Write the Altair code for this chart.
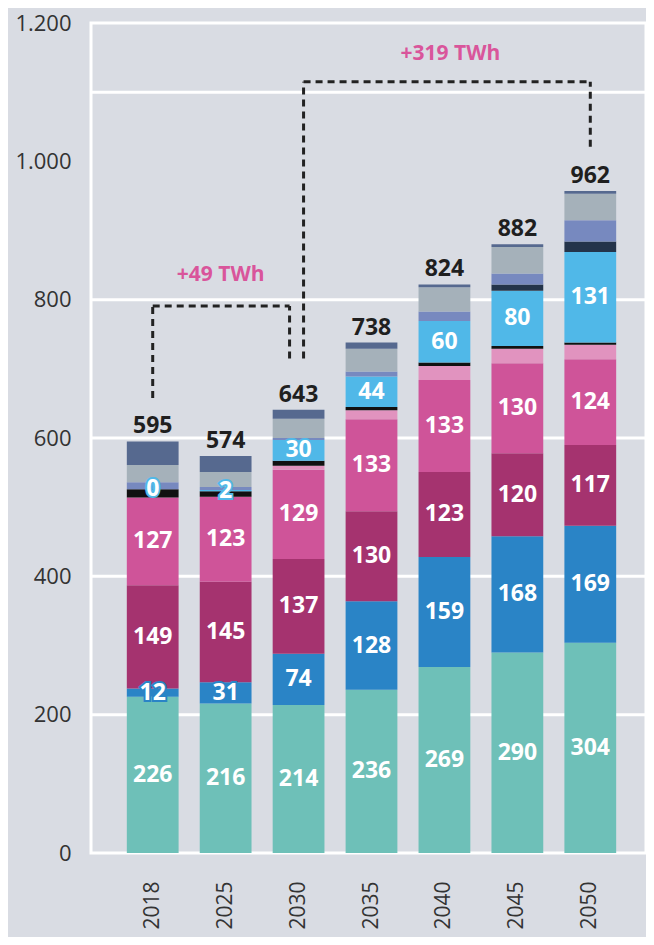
import altair as alt
import pandas as pd

# ---- data ----
years = ["2018", "2025", "2030", "2035", "2040", "2045", "2050"]
teal = [226, 216, 214, 236, 269, 290, 304]
blue = [12, 31, 74, 128, 159, 168, 169]
darkmag = [149, 145, 137, 130, 123, 120, 117]
pink = [127, 123, 129, 133, 133, 130, 124]
lightpink = [0, 0, 6, 13, 20, 21, 21]
black = [12, 8, 7, 5, 5, 4, 3]
lightblue = [0, 2, 30, 44, 60, 80, 131]
navy = [0, 0, 0, 0, 0, 9, 15]
lavender = [10, 4, 3, 7, 14, 16, 31]
grey = [25, 22, 28, 33, 35, 38, 38]
slate = [34, 23, 13, 9, 4, 4, 4]
totals = [595, 574, 643, 738, 824, 882, 962]

series = [
    ("teal", teal, "#6ec0b8", True),
    ("blue", blue, "#2a84c6", True),
    ("darkmag", darkmag, "#a5336f", True),
    ("pink", pink, "#cf5499", True),
    ("lightpink", lightpink, "#e193bf", False),
    ("black", black, "#111111", False),
    ("lightblue", lightblue, "#50b8e8", True),
    ("navy", navy, "#24344a", False),
    ("lavender", lavender, "#7789bf", False),
    ("grey", grey, "#a5b1ba", False),
    ("slate", slate, "#56698f", False),
]
cat_names = [s[0] for s in series]
cat_colors = [s[2] for s in series]

rows = []
for i, y in enumerate(years):
    base = 0
    for k, (name, vals, col, labelled) in enumerate(series):
        v = vals[i]
        rows.append(dict(year=y, cat=name, order=k, value=v, y0=base, y1=base + v,
                         mid=base + v / 2, lab=str(v) if labelled else ""))
        base += v
seg = pd.DataFrame(rows)
tops = seg.groupby("year", as_index=False)["y1"].max()
tops["total"] = totals
lab = seg[seg["lab"] != ""]

# gridlines (as drawn in the reference)
grid_vals = [200, 400, 600, 800, 1100]
grid = pd.DataFrame({"v": grid_vals})

# bracket annotations (data units)
b49 = dict(left="2018", right="2030", low_left=658, top=791, low_right=715, text="+49 TWh", tx="2025", ty=835)
b319 = dict(left="2030", right="2050", low_left=715, top=1115, low_right=1021, text="+319 TWh", tx="2040", ty=1155)

FONT = "Open Sans"
xscale = alt.Scale(domain=years, paddingInner=0.29, paddingOuter=0.45, range=[3, 558])
yscale = alt.Scale(domain=[0, 1200])

xaxis = alt.Axis(title=None, labelAngle=270, labelPadding=28, ticks=False, domain=False,
                 labelFontSize=21, labelColor="#333333", labelFont=FONT, grid=False)
yaxis = alt.Axis(title=None, values=[0, 200, 400, 600, 800, 1000, 1200], ticks=False, domain=False,
                 grid=False, labelPadding=20, labelFontSize=22, labelColor="#333333", labelFont=FONT,
                 labelExpr="replace(format(datum.value, ','), ',', '.')")

gridlines = alt.Chart(grid).mark_rule(color="white", strokeWidth=3).encode(
    y=alt.Y("v:Q", scale=yscale, axis=yaxis))

bars = alt.Chart(seg).mark_bar().encode(
    x=alt.X("year:N", scale=xscale, sort=years, axis=xaxis),
    y=alt.Y("y0:Q", scale=yscale, axis=yaxis), y2="y1:Q",
    color=alt.Color("cat:N", scale=alt.Scale(domain=cat_names, range=cat_colors), legend=None),
)

lab_outline = alt.Chart(lab).mark_text(font=FONT, fontSize=23, fontWeight="bold", strokeWidth=4,
                                       baseline="middle").encode(
    x=alt.X("year:N", scale=xscale, sort=years),
    y=alt.Y("mid:Q", scale=yscale),
    text="lab:N",
    stroke=alt.Color("cat:N", scale=alt.Scale(domain=cat_names, range=cat_colors), legend=None),
    color=alt.value("white"),
)
lab_fill = alt.Chart(lab).mark_text(font=FONT, fontSize=23, fontWeight="bold", color="white",
                                    baseline="middle").encode(
    x=alt.X("year:N", scale=xscale, sort=years),
    y=alt.Y("mid:Q", scale=yscale),
    text="lab:N",
)

total_txt = alt.Chart(tops).mark_text(font=FONT, fontSize=23, fontWeight="bold", color="#1f1f1f",
                                      baseline="bottom", dy=-3).encode(
    x=alt.X("year:N", scale=xscale, sort=years),
    y=alt.Y("y1:Q", scale=yscale),
    text="total:Q",
)

DASH = [7, 5]
def bracket(b, loff, roff, tdx):
    d = pd.DataFrame([b])
    common = dict(color="#222222", strokeWidth=3, strokeDash=DASH)
    lv = alt.Chart(d).mark_rule(xOffset=loff, **common).encode(
        x=alt.X("left:N", scale=xscale, sort=years),
        y=alt.Y("low_left:Q", scale=yscale), y2="top:Q")
    rv = alt.Chart(d).mark_rule(xOffset=roff, **common).encode(
        x=alt.X("right:N", scale=xscale, sort=years),
        y=alt.Y("low_right:Q", scale=yscale), y2="top:Q")
    hz = alt.Chart(d).mark_rule(xOffset=loff, x2Offset=roff, **common).encode(
        x=alt.X("left:N", scale=xscale, sort=years), x2="right:N",
        y=alt.Y("top:Q", scale=yscale))
    tx = alt.Chart(d).mark_text(font=FONT, fontSize=21, fontWeight="bold", color="#d9559b",
                                baseline="middle", dx=tdx).encode(
        x=alt.X("tx:N", scale=xscale, sort=years),
        y=alt.Y("ty:Q", scale=yscale),
        text="text:N")
    return lv + rv + hz + tx

chart = alt.layer(
    gridlines, bars, lab_outline, lab_fill, total_txt,
    bracket(b49, 0, -9, -5), bracket(b319, 5, 0, 6),
).properties(
    width=555, height=830,
    autosize=alt.AutoSizeParams(type="none"),
    padding={"left": 83, "top": 15, "right": 0, "bottom": 84},
    background="#d9dce3",
).configure_view(stroke="white", strokeWidth=3, fill="#d9dce3")

chart.save("out.html", embed_options={"renderer": "svg", "actions": False})
